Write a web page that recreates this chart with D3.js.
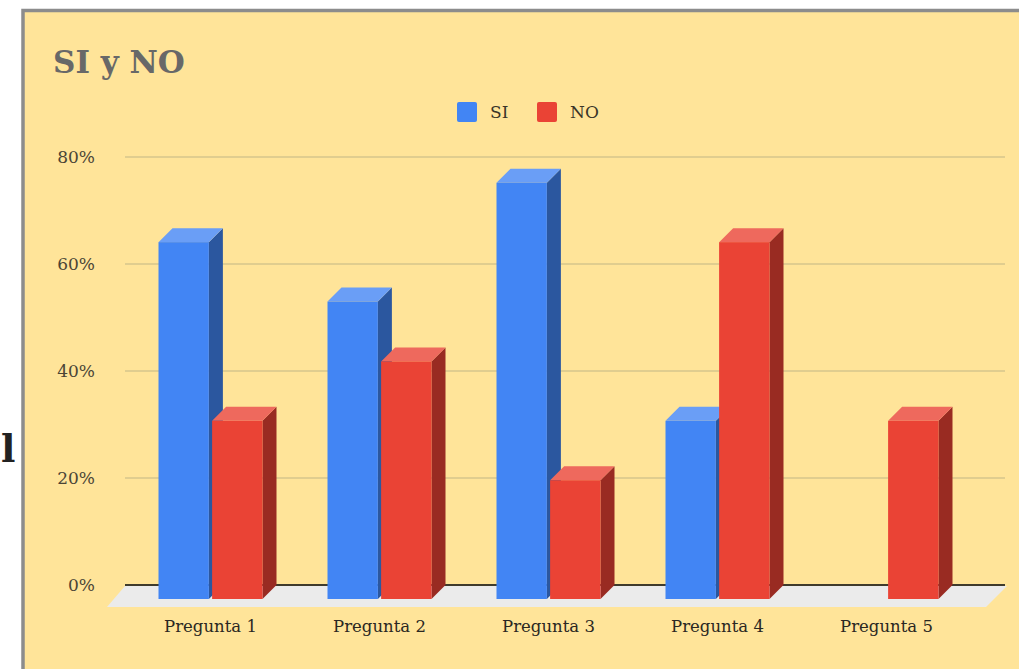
<!DOCTYPE html>
<html>
<head>
<meta charset="utf-8">
<script src="https://cdn.jsdelivr.net/npm/d3@7"></script>
<style>
	html, body { margin: 0; padding: 0; background: #fff; }
	svg { display: block; }
</style>
</head>
<body>
<div id="chart"></div>
<script>
//
// Data
//
var categories = ["Pregunta 1", "Pregunta 2", "Pregunta 3", "Pregunta 4", "Pregunta 5"];
var seriesNames = ["SI", "NO"];
var siValues = [0.667, 0.556, 0.778, 0.333, 0];
var noValues = [0.333, 0.444, 0.222, 0.667, 0.333];
var yTicks = [0, 0.2, 0.4, 0.6, 0.8];
var chartTitle = "SI y NO";

//
// Chart set up
//
var _width = 1019,
	_height = 669,
	depth = 14,
	floorDepth = 21,
	serif = "'DejaVu Serif', 'Liberation Serif', serif";

var colors = {
	SI: { front: "#4285f4", side: "#2b579f", top: "#6a9ef6" },
	NO: { front: "#ea4335", side: "#992b22", top: "#ee695d" }
};

var svg = d3.select( "#chart" ).append( "svg" )
	.attr( "width", _width )
	.attr( "height", _height );

// chart box
svg.append( "rect" )
	.attr( "x", 23 )
	.attr( "y", 10.5 )
	.attr( "width", 1100 )
	.attr( "height", 800 )
	.attr( "fill", "#ffe499" )
	.attr( "stroke", "#8c8c8c" )
	.attr( "stroke-width", 3.5 );

// stray letter left of the chart
svg.append( "text" )
	.attr( "x", 1 )
	.attr( "y", 462 )
	.attr( "font-family", serif )
	.attr( "font-weight", "bold" )
	.attr( "font-size", 38 )
	.attr( "fill", "#222" )
	.text( "l" );

svg.append( "text" )
	.attr( "x", 53 )
	.attr( "y", 73 )
	.attr( "font-family", serif )
	.attr( "font-weight", "bold" )
	.attr( "font-size", 31 )
	.attr( "fill", "#686868" )
	.text( chartTitle );

//
// Scales (back plane)
//
var y = d3.scaleLinear()
	.domain( [0, 0.8] )
	.range( [585, 157] );

var x0 = d3.scaleBand()
	.domain( categories )
	.range( [140, 985] );

var x1 = d3.scaleBand()
	.domain( seriesNames )
	.range( [-52, 52] )
	.paddingInner( 0.06 );

var gridLeft = 125,
	gridRight = 1005;

// gridlines
svg.append( "g" )
	.attr( "class", "grid" )
	.selectAll( "line" )
	.data( yTicks.filter( function(d) { return d > 0; } ) )
	.enter()
	.append( "line" )
	.attr( "x1", gridLeft )
	.attr( "x2", gridRight )
	.attr( "y1", function(d) { return y(d); } )
	.attr( "y2", function(d) { return y(d); } )
	.attr( "stroke", "#d6c68c" )
	.attr( "stroke-width", 1.5 );

// floor
var y0 = y(0);
svg.append( "polygon" )
	.attr( "points", [
		[gridLeft, y0 + 1], [gridRight + 2, y0 + 1],
		[gridRight + 2 - floorDepth, y0 + floorDepth + 1], [gridLeft - floorDepth + 3, y0 + floorDepth + 1]
	].join( " " ) )
	.attr( "fill", "#ebebeb" );

svg.append( "line" )
	.attr( "x1", gridLeft )
	.attr( "x2", gridRight )
	.attr( "y1", y0 )
	.attr( "y2", y0 )
	.attr( "stroke", "#3f3b2c" )
	.attr( "stroke-width", 2 );

// y axis
var yAxis = svg.append( "g" )
	.attr( "transform", "translate(" + gridLeft + ",0)" )
	.call( d3.axisLeft( y ).tickValues( yTicks ).tickFormat( d3.format( ".0%" ) ).tickSize( 0 ).tickPadding( 30 ) );
yAxis.select( ".domain" ).remove();
yAxis.selectAll( "text" )
	.attr( "font-family", serif )
	.attr( "font-size", 17 )
	.attr( "fill", "#4a4436" );

//
// Bars
//
var bars = [];
categories.forEach( function(c, i) {
	bars.push( { cat: c, s: "SI", v: siValues[i] } );
	bars.push( { cat: c, s: "NO", v: noValues[i] } );
} );
bars = bars.filter( function(d) { return d.v > 0; } );

var bw = x1.bandwidth();

function frontLeft(d) {
	return x0(d.cat) + x0.bandwidth() / 2 + x1(d.s) - depth;
}

var barG = svg.append( "g" )
	.attr( "class", "bars" )
	.selectAll( "g" )
	.data( bars )
	.enter()
	.append( "g" );

barG.append( "polygon" )
	.attr( "points", function(d) {
		var l = frontLeft(d), t = y(d.v);
		return [[l + bw, t + depth], [l + bw + depth, t], [l + bw + depth, y0], [l + bw, y0 + depth]].join( " " );
	} )
	.attr( "fill", function(d) { return colors[d.s].side; } );

barG.append( "polygon" )
	.attr( "points", function(d) {
		var l = frontLeft(d), t = y(d.v);
		return [[l, t + depth], [l + depth, t], [l + bw + depth, t], [l + bw, t + depth]].join( " " );
	} )
	.attr( "fill", function(d) { return colors[d.s].top; } );

barG.append( "rect" )
	.attr( "x", frontLeft )
	.attr( "y", function(d) { return y(d.v) + depth; } )
	.attr( "width", bw )
	.attr( "height", function(d) { return y0 - y(d.v); } )
	.attr( "fill", function(d) { return colors[d.s].front; } );

// x axis (front plane)
var xFront = d3.scaleBand()
	.domain( categories )
	.range( [140 - depth, 985 - depth] );

var xAxis = svg.append( "g" )
	.attr( "transform", "translate(0," + (y0 + floorDepth + 1) + ")" )
	.call( d3.axisBottom( xFront ).tickSize( 0 ).tickPadding( 13 ) );
xAxis.select( ".domain" ).remove();
xAxis.selectAll( "text" )
	.attr( "font-family", serif )
	.attr( "font-size", 16.5 )
	.attr( "fill", "#2a2722" );

//
// Legend
//
var legendX = { SI: 457, NO: 537 };
var legend = svg.append( "g" )
	.attr( "class", "legend" )
	.selectAll( "g" )
	.data( seriesNames )
	.enter()
	.append( "g" )
	.attr( "transform", function(d) { return "translate(" + legendX[d] + ",102)"; } );

legend.append( "rect" )
	.attr( "width", 20 )
	.attr( "height", 20 )
	.attr( "rx", 2 )
	.attr( "fill", function(d) { return colors[d].front; } );

legend.append( "text" )
	.attr( "x", 33 )
	.attr( "y", 10 )
	.attr( "dy", "0.35em" )
	.attr( "font-family", serif )
	.attr( "font-size", 17 )
	.attr( "fill", "#3a3528" )
	.text( function(d) { return d; } );
</script>
</body>
</html>
